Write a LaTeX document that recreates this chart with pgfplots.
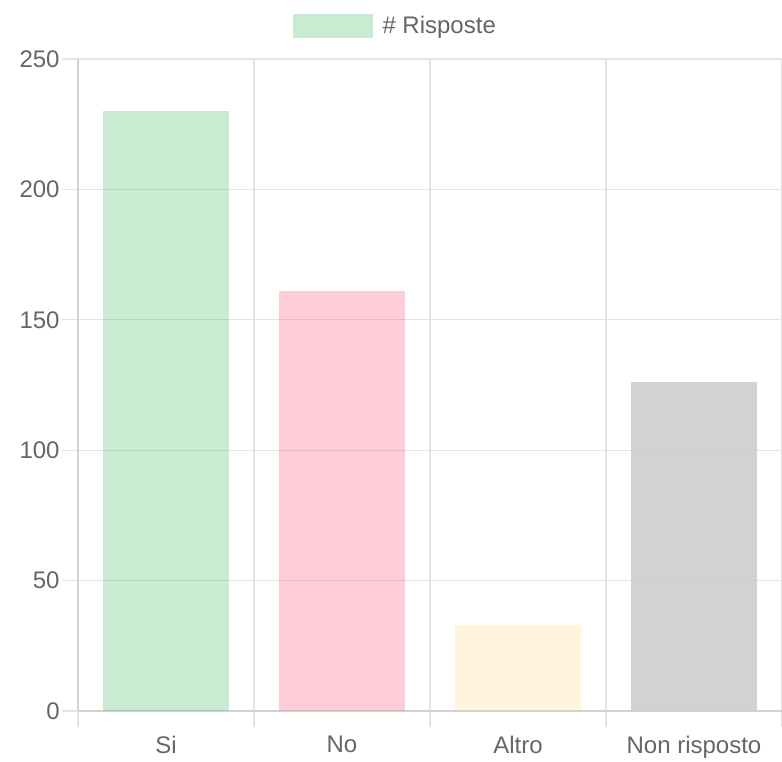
\documentclass[border=0pt]{standalone}
\usepackage{pgfplots}
\pgfplotsset{compat=1.18}
\usepackage{fontspec}
\setmainfont{Liberation Sans}
\definecolor{txt}{HTML}{666666}
\definecolor{gridc}{HTML}{E4E4E4}
\definecolor{axc}{HTML}{D2D2D2}
\definecolor{cgreen}{RGB}{72,188,105}
\definecolor{cpink}{RGB}{255,99,132}
\definecolor{cyellow}{RGB}{255,205,86}
\definecolor{cgrey}{RGB}{205,205,205}
\begin{document}
\begin{tikzpicture}
\begin{axis}[
    scale only axis,
    width=352pt, height=326pt,
    xmin=-0.5, xmax=3.5,
    ymin=0, ymax=250,
    ytick={0,50,100,150,200,250},
    xtick={0,1,2,3},
    xticklabels={Si,No,Altro,Non risposto},
    minor xtick={-0.5,0.5,1.5,2.5,3.5},
    ymajorgrids, xminorgrids,
    grid style={gridc, line width=0.6pt},
    minor grid style={gridc, line width=0.6pt},
    separate axis lines,
    axis x line*=bottom, axis y line*=left,
    axis line style={axc, line width=0.6pt, -},
    tick align=outside,
    major tick length=8pt, minor tick length=8pt,
    x tick style={draw=none},
    minor x tick style={draw=gridc, line width=0.6pt},
    y tick style={gridc, line width=0.6pt},
    tick label style={font=\fontsize{12}{14}\selectfont, text=txt},
    /pgf/number format/assume math mode=true,
    yticklabel style={inner sep=1pt},
    xticklabel style={yshift=-1pt},
    legend style={at={(0.452,1)}, anchor=center, yshift=16.5pt,
        draw=none, fill=none, inner sep=0pt,
        font=\fontsize{12}{14}\selectfont, text=txt,
        /tikz/every odd column/.style={column sep=3pt}},
    ybar, bar width=0.72,
]
\addplot[bar shift=0pt, draw=none, fill=cgreen, fill opacity=0.3,
    legend image code/.code={\fill[cgreen, fill opacity=0.3] (0pt,-6pt) rectangle (40pt,6pt);}]
    coordinates {(0,230)};
\addlegendentry{\# Risposte}
\addplot[bar shift=0pt, draw=none, fill=cpink, fill opacity=0.32, forget plot] coordinates {(1,161)};
\addplot[bar shift=0pt, draw=none, fill=cyellow, fill opacity=0.2, forget plot] coordinates {(2,33)};
\addplot[bar shift=0pt, draw=none, fill=cgrey, fill opacity=0.9, forget plot] coordinates {(3,126)};
\end{axis}
\pgfresetboundingbox
\useasboundingbox (-39pt,-25pt) rectangle (352pt,355.5pt);
\end{tikzpicture}
\end{document}
